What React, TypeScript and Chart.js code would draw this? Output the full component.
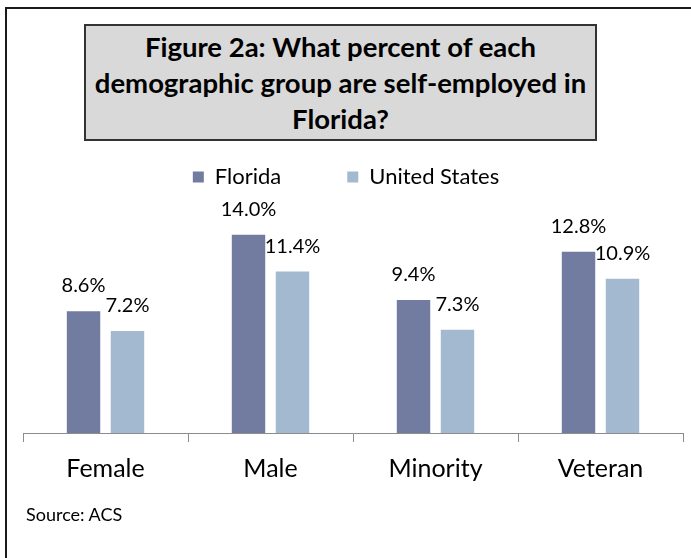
import React, { useEffect, useRef } from "react";
import { Chart, registerables } from "chart.js";

Chart.register(...registerables);

const categories = ["Female", "Male", "Minority", "Veteran"];
const floridaValues = [8.6, 14.0, 9.4, 12.8];
const usValues = [7.2, 11.4, 7.3, 10.9];
const seriesNames = ["Florida", "United States"];
const titleLines = [
  "Figure 2a: What percent of each",
  "demographic group are self-employed in",
  "Florida?",
];
const sourceText = "Source: ACS";

const FONT = "Lato, 'Open Sans', sans-serif";

const dataLabelPlugin = {
  id: "dataLabels",
  afterDatasetsDraw(chart: any) {
    const ctx = chart.ctx;
    ctx.save();
    ctx.font = `20px ${FONT}`;
    ctx.fillStyle = "#000";
    ctx.textAlign = "center";
    ctx.textBaseline = "alphabetic";
    chart.data.datasets.forEach((ds: any, di: number) => {
      const meta = chart.getDatasetMeta(di);
      meta.data.forEach((bar: any, i: number) => {
        const v = ds.data[i];
        ctx.fillText(v.toFixed(1) + "%", bar.x, bar.y - 19);
      });
    });
    ctx.restore();
  },
};

const legendShiftPlugin = {
  id: "legendShift",
  afterLayout(chart: any) {
    const lg = chart.legend;
    if (lg) {
      lg.left -= 7;
      lg.right -= 7;
    }
  },
};

export default function App() {
  const ref = useRef<HTMLCanvasElement | null>(null);

  useEffect(() => {
    if (!ref.current) return;
    const chart = new Chart(ref.current, {
      type: "bar",
      data: {
        labels: categories,
        datasets: [
          {
            label: seriesNames[0],
            data: floridaValues,
            backgroundColor: "#727ba0",
            categoryPercentage: 0.533,
            barPercentage: 0.76,
          },
          {
            label: seriesNames[1],
            data: usValues,
            backgroundColor: "#a3b9d0",
            categoryPercentage: 0.533,
            barPercentage: 0.76,
          },
        ],
      },
      options: {
        animation: false,
        responsive: false,
        maintainAspectRatio: false,
        layout: { padding: { left: 23, right: 8, top: 100, bottom: 62 } },
        plugins: {
          legend: {
            display: true,
            position: "top",
            labels: {
              font: { family: FONT, size: 22 },
              color: "#000",
              boxWidth: 11,
              boxHeight: 11,
              padding: 66,
            },
          },
          tooltip: { enabled: false },
          title: { display: false },
        },
        scales: {
          x: {
            grid: {
              offset: true,
              drawOnChartArea: false,
              drawTicks: true,
              tickLength: 9,
              color: "#8c8c8c",
            },
            border: { display: true, color: "#8c8c8c", width: 1 },
            ticks: {
              font: { family: FONT, size: 25, lineHeight: 1.2 },
              color: "#000",
              padding: 12,
            },
          },
          y: {
            display: false,
            min: 0,
            max: 16.6,
          },
        },
      },
      plugins: [dataLabelPlugin, legendShiftPlugin],
    });
    return () => chart.destroy();
  }, []);

  return (
    <div
      style={{
        position: "absolute",
        left: 0,
        top: 0,
        width: 691,
        height: 558,
        overflow: "hidden",
        background: "#fff",
        fontFamily: FONT,
      }}
    >
      <div
        style={{
          position: "absolute",
          left: 5,
          top: 7,
          width: 800,
          height: 551,
          borderTop: "2px solid #1a1a1a",
          borderLeft: "2px solid #1a1a1a",
          boxSizing: "border-box",
        }}
      />
      <canvas
        ref={ref}
        width={691}
        height={558}
        style={{ position: "absolute", left: 0, top: 0, width: 691, height: 558 }}
      />
      <div
        style={{
          position: "absolute",
          left: 84,
          top: 24,
          width: 513,
          height: 117,
          boxSizing: "border-box",
          border: "2px solid #333",
          background: "#d9d9d9",
          display: "flex",
          flexDirection: "column",
          alignItems: "center",
          justifyContent: "center",
          fontWeight: 700,
          fontSize: 27.5,
          lineHeight: "36px",
          color: "#000",
          textAlign: "center",
          whiteSpace: "nowrap",
        }}
      >
        {titleLines.map((l, i) => (
          <div key={i}>{l}</div>
        ))}
      </div>
      <div
        style={{
          position: "absolute",
          left: 26,
          top: 503,
          fontSize: 18,
          lineHeight: "22px",
          color: "#000",
        }}
      >
        {sourceText}
      </div>
    </div>
  );
}
